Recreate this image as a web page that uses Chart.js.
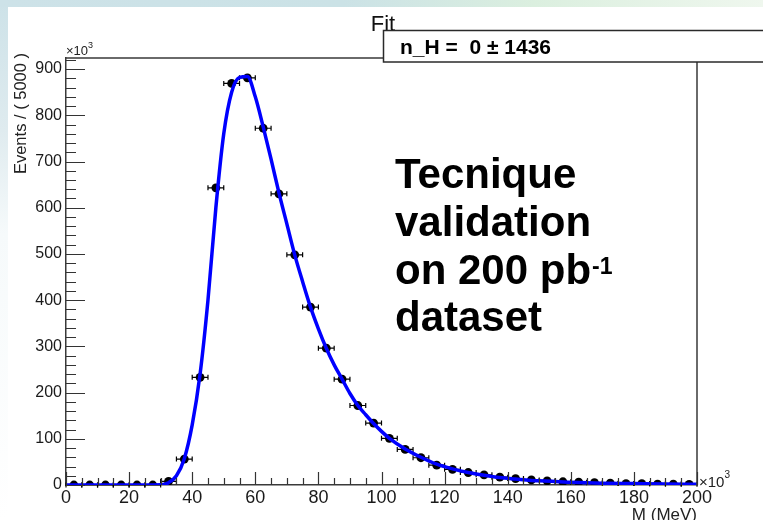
<!DOCTYPE html>
<html><head><meta charset="utf-8">
<script src="https://cdn.jsdelivr.net/npm/chart.js@4/dist/chart.umd.min.js"></script>
<style>html,body{margin:0;padding:0;background:#fff;overflow:hidden}#wrap{width:763px;height:520px;position:relative}canvas{display:block}</style>
</head><body><div id="wrap"><canvas id="c" width="763" height="520"></canvas></div>
<script>
// ---- data (x in units of 10^3 MeV, y in units of 10^3 events) ----
const binCenters = [2.5,7.5,12.5,17.5,22.5,27.5,32.5,37.5,42.5,47.5,52.5,57.5,62.5,67.5,72.5,77.5,82.5,87.5,92.5,97.5,
                    102.5,107.5,112.5,117.5,122.5,127.5,132.5,137.5,142.5,147.5,152.5,157.5,162.5,167.5,172.5,177.5,182.5,187.5,192.5,197.5];
const counts = [0,0,0,0,0,0,8,56,233,643,869,881,772,630,498,385,296,229,172,134,
                101,77,59,43,34,27,22,17,14,11,9,7,6,5,4,3,3,2,2,1.5];
const binWidth = 5;
const fitX = [0,25,30,32.5,35,37.5,40,42.5,45,47.5,50,52.5,55,57.5,60,62.5,65,67.5,70,72.5,75,77.5,80,82.5,85,87.5,90,92.5,95,97.5,100,102.5,107.5,112.5,117.5,122.5,127.5,132.5,137.5,142.5,150,160,170,180,190,200];
const fitY = [0,0,0.5,5,20,57,130,240,400,600,760,850,882,884,840,775,705,632,565,498,440,385,338,296,260,229,198,172,152,133,116,101,78,60,45,35,27,21,16,13,9,6,4,3,2,1.5];
const xTicks = [0,20,40,60,80,100,120,140,160,180,200];
const yTicks = [0,100,200,300,400,500,600,700,800,900];
const xRange = [0,200];
const yRange = [0,924];
const titleText = 'Fit';
const statsText = 'n_H =  0 \u00B1 1436';
const noteLines = ['Tecnique','validation','on 200 pb','dataset'];
const noteSup = '-1';
const yTitle = 'Events / ( 5000 )';
const xTitle = 'M (MeV)';

const FONT = "'Liberation Sans', Arial, Helvetica, sans-serif";

const deco = {
  id: 'deco',
  beforeDraw(chart) {
    const ctx = chart.ctx, W = chart.width, H = chart.height;
    ctx.save();
    const g = ctx.createLinearGradient(0, 0, W, 0);
    g.addColorStop(0, '#cde2e8'); g.addColorStop(0.45, '#cbe2e6');
    g.addColorStop(0.7, '#dbefdf'); g.addColorStop(1, '#eff7ee');
    ctx.fillStyle = g; ctx.fillRect(0, 0, W, 7);
    const g2 = ctx.createLinearGradient(0, 0, 0, H);
    g2.addColorStop(0, '#cde2e8'); g2.addColorStop(0.25, '#dfebef');
    g2.addColorStop(0.45, '#f6fafb'); g2.addColorStop(1, '#ffffff');
    ctx.fillStyle = g2; ctx.fillRect(0, 7, 8, H - 7);
    ctx.fillStyle = '#ffffff'; ctx.fillRect(8, 7, W - 8, H - 7);
    ctx.restore();
  },
  beforeDatasetsDraw(chart) {
    const ctx = chart.ctx, xs = chart.scales.x, ys = chart.scales.y;
    ctx.save();
    ctx.strokeStyle = '#000'; ctx.lineWidth = 1.2;
    binCenters.forEach((c, i) => {
      const x0 = xs.getPixelForValue(c - binWidth / 2);
      const x1 = xs.getPixelForValue(c + binWidth / 2);
      const y = ys.getPixelForValue(counts[i]);
      ctx.beginPath();
      ctx.moveTo(x0, y); ctx.lineTo(x1, y);
      ctx.moveTo(x0, y - 2.5); ctx.lineTo(x0, y + 2.5);
      ctx.moveTo(x1, y - 2.5); ctx.lineTo(x1, y + 2.5);
      ctx.stroke();
    });
    ctx.restore();
  },
  afterDraw(chart) {
    const ctx = chart.ctx, xs = chart.scales.x, ys = chart.scales.y, a = chart.chartArea;
    ctx.save();
    // frame top/right
    ctx.strokeStyle = '#3a3a3a'; ctx.lineWidth = 1.5;
    ctx.beginPath();
    ctx.moveTo(a.left, a.top); ctx.lineTo(a.right, a.top); ctx.lineTo(a.right, a.bottom);
    ctx.stroke();
    // ticks (inward)
    ctx.lineWidth = 1.2; ctx.strokeStyle = '#333';
    ctx.beginPath();
    for (let v = yRange[0]; v <= yRange[1]; v += 20) {
      const y = Math.round(ys.getPixelForValue(v)) + 0.5;
      const len = (v % 100 === 0) ? 19 : 10;
      ctx.moveTo(a.left, y); ctx.lineTo(a.left + len, y);
    }
    for (let v = xRange[0]; v <= xRange[1]; v += 5) {
      const x = Math.round(xs.getPixelForValue(v)) + 0.5;
      const len = (v % 20 === 0) ? 13 : 7;
      ctx.moveTo(x, a.bottom); ctx.lineTo(x, a.bottom - len);
    }
    ctx.stroke();

    ctx.fillStyle = '#111';
    // title
    ctx.font = '22px ' + FONT; ctx.textAlign = 'center'; ctx.textBaseline = 'alphabetic';
    ctx.fillText(titleText, 383, 31);
    // stats box
    ctx.fillStyle = '#fff';
    ctx.fillRect(383, 30, 400, 32);
    ctx.strokeStyle = '#2a2a2a'; ctx.lineWidth = 1.5;
    ctx.strokeRect(383.5, 30.5, 400, 31.5);
    ctx.fillStyle = '#000';
    ctx.font = 'bold 21px ' + FONT; ctx.textAlign = 'left';
    ctx.fillText(statsText, 400, 54);
    // exponent labels
    ctx.fillStyle = '#222';
    ctx.font = '13px ' + FONT; ctx.textAlign = 'left';
    ctx.fillText('\u00D710', 66, 55);
    let w = ctx.measureText('\u00D710').width;
    ctx.font = '9px ' + FONT; ctx.fillText('3', 66 + w, 48);
    ctx.font = '15px ' + FONT;
    ctx.fillText('\u00D710', 699, 487);
    w = ctx.measureText('\u00D710').width;
    ctx.font = '10px ' + FONT; ctx.fillText('3', 699 + w, 478);
    // axis titles
    ctx.font = '17px ' + FONT; ctx.textAlign = 'right';
    ctx.fillText(xTitle, 697, 520);
    ctx.save();
    ctx.translate(26, 53); ctx.rotate(-Math.PI / 2);
    ctx.font = '16.5px ' + FONT; ctx.textAlign = 'right';
    ctx.fillText(yTitle, 0, 0);
    ctx.restore();
    // note text
    ctx.fillStyle = '#000';
    ctx.font = 'bold 42px ' + FONT; ctx.textAlign = 'left';
    const base = [188, 236, 284, 331];
    noteLines.forEach((t, i) => ctx.fillText(t, 395, base[i]));
    const pw = ctx.measureText(noteLines[2]).width;
    ctx.font = 'bold 23px ' + FONT;
    ctx.fillText(noteSup, 395 + pw + 1, 274);
    ctx.restore();
  }
};

new Chart(document.getElementById('c'), {
  type: 'scatter',
  data: {
    datasets: [
      {
        label: 'fit', data: fitX.map((x, i) => ({x, y: fitY[i]})),
        showLine: true, borderColor: '#0000ff', borderWidth: 3.5, pointRadius: 0,
        cubicInterpolationMode: 'monotone', fill: false, order: 0
      },
      {
        label: 'data', data: binCenters.map((x, i) => ({x, y: counts[i]})),
        showLine: false, pointRadius: 4.4, pointBackgroundColor: '#000', pointBorderColor: '#000',
        pointBorderWidth: 0, order: 1
      }
    ]
  },
  options: {
    responsive: false, animation: false, devicePixelRatio: 1,
    layout: { padding: { top: 58, right: 66, left: 0, bottom: 0 } },
    plugins: { legend: { display: false }, tooltip: { enabled: false }, title: { display: false } },
    scales: {
      x: {
        type: 'linear', min: xRange[0], max: xRange[1],
        grid: { display: false, drawTicks: false, tickLength: 0 },
        border: { display: true, color: '#3a3a3a', width: 1.5 },
        ticks: { color: '#1a1a1a', font: { family: FONT, size: 18 }, padding: 2, autoSkip: false, maxRotation: 0 },
        afterBuildTicks: s => { s.ticks = xTicks.map(v => ({ value: v })); },
        afterFit: s => { s.height = 35; }
      },
      y: {
        type: 'linear', min: yRange[0], max: yRange[1],
        grid: { display: false, drawTicks: false, tickLength: 0 },
        border: { display: true, color: '#3a3a3a', width: 1.5 },
        ticks: { color: '#1a1a1a', font: { family: FONT, size: 16 }, padding: 4, autoSkip: false },
        afterBuildTicks: s => { s.ticks = yTicks.map(v => ({ value: v })); },
        afterFit: s => { s.width = 66; }
      }
    }
  },
  plugins: [deco]
});
</script></body></html>
